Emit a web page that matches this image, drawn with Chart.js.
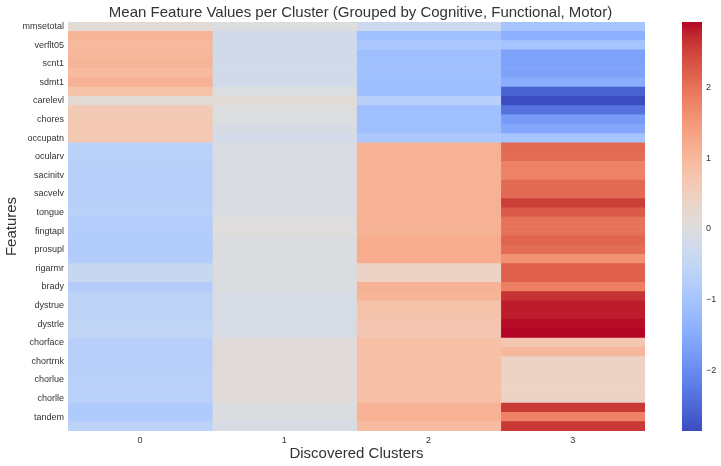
<!DOCTYPE html>
<html>
<head>
<meta charset="utf-8">
<script src="https://cdn.jsdelivr.net/npm/chart.js@4.4.0/dist/chart.umd.min.js"></script>
<style>
  html, body { margin: 0; padding: 0; background: #fff; }
  #wrap { position: relative; width: 721px; height: 466px; }
  #heat { position: absolute; left: 0; top: 0; }
  #cbar { position: absolute; left: 682px; top: 0; }
</style>
</head>
<body>
<div id="wrap">
  <canvas id="heat" width="721" height="466"></canvas>
  <canvas id="cbar" width="39" height="466"></canvas>
</div>
<script>
const clusters = ['0', '1', '2', '3'];

const features = [
  'mmsetotal', 'verfct5', 'verflt05', 'swrt1', 'scnt1', 'sit1', 'sdmt1',
  'adl', 'carelevl', 'finances', 'chores', 'indepscl', 'occupatn',
  'ocularh', 'ocularv', 'sacinith', 'sacinitv', 'sacvelh', 'sacvelv', 'dysarth', 'tongue',
  'fingtapr', 'fingtapl', 'prosupr', 'prosupl', 'luria', 'rigarmr', 'rigarml', 'brady',
  'dysttrnk', 'dystrue', 'dystlue', 'dystrle', 'dystlle', 'chorface', 'chorbol', 'chortrnk',
  'chorrue', 'chorlue', 'chorrle', 'chorlle', 'gait', 'tandem', 'retropls'
];

// mean z-scores per cluster, one value per feature (same order as features)
const cluster0 = [
  0.15, 1.05, 0.95, 1.0, 1.05, 0.95, 1.1,
  0.8, 0.15, 0.62, 0.65, 0.65, 0.65,
  -0.65, -0.65, -0.7, -0.7, -0.7, -0.68, -0.68, -0.65,
  -0.8, -0.8, -0.8, -0.82, -0.8, -0.4, -0.4, -0.78,
  -0.62, -0.6, -0.6, -0.52, -0.5, -0.7, -0.68, -0.7,
  -0.68, -0.66, -0.66, -0.65, -0.85, -0.85, -0.6
];
const cluster1 = [
  0.0, -0.22, -0.22, -0.22, -0.22, -0.22, -0.22,
  0.02, 0.12, 0.02, 0.0, -0.1, -0.18,
  -0.05, -0.05, -0.05, -0.05, -0.05, -0.05, -0.05, -0.05,
  0.05, 0.05, -0.02, -0.02, -0.02, -0.02, -0.02, -0.02,
  -0.1, -0.1, -0.1, -0.1, -0.1, 0.1, 0.1, 0.1,
  0.1, 0.1, 0.1, 0.1, -0.02, -0.02, -0.1
];
const cluster2 = [
  -0.33, -1.1, -0.9, -1.1, -1.1, -1.1, -1.1,
  -1.12, -0.68, -1.1, -1.1, -1.1, -0.9,
  1.1, 1.1, 1.1, 1.1, 1.1, 1.1, 1.1, 1.1,
  1.1, 1.1, 1.2, 1.2, 1.2, 0.4, 0.4, 1.1,
  1.05, 0.8, 0.8, 0.7, 0.7, 0.85, 0.85, 0.85,
  0.85, 0.85, 0.85, 0.85, 1.1, 1.1, 0.9
];
const cluster3 = [
  -1.0, -1.4, -1.0, -1.65, -1.65, -1.65, -1.45,
  -2.55, -2.85, -2.35, -1.75, -1.55, -1.0,
  2.1, 2.05, 1.8, 1.8, 2.1, 2.1, 2.55, 2.25,
  2.0, 2.0, 2.15, 2.05, 1.6, 2.2, 2.2, 1.85,
  2.65, 2.8, 2.8, 2.88, 2.92, 0.7, 1.0, 0.4,
  0.4, 0.4, 0.4, 0.4, 2.6, 1.8, 2.6
];

const colorbarTicks = [-2, -1, 0, 1, 2];

const clusterValues = [cluster0, cluster1, cluster2, cluster3];
const allValues = clusterValues.flat();
const vmin = Math.min(...allValues);
const vmax = Math.max(...allValues);

// matplotlib "coolwarm" (Moreland) sampled at 33 points
const coolwarmTable = [
  [59, 76, 192], [68, 90, 204], [77, 104, 215], [87, 117, 225], [98, 130, 234],
  [108, 142, 241], [119, 154, 247], [130, 165, 251], [141, 176, 254], [152, 185, 255],
  [163, 194, 255], [174, 201, 253], [184, 208, 249], [194, 213, 244], [204, 217, 238],
  [213, 219, 230], [221, 221, 221], [229, 216, 209], [236, 211, 197], [241, 204, 185],
  [245, 196, 173], [247, 187, 160], [247, 177, 148], [247, 166, 135], [244, 154, 123],
  [241, 141, 111], [236, 127, 99], [229, 112, 88], [222, 96, 77], [213, 80, 66],
  [203, 62, 56], [192, 40, 47], [180, 4, 38]
];

function coolwarm(t) {
  t = Math.max(0, Math.min(1, t));
  const pos = t * (coolwarmTable.length - 1);
  const i = Math.min(Math.floor(pos), coolwarmTable.length - 2);
  const f = pos - i;
  const a = coolwarmTable[i], b = coolwarmTable[i + 1];
  const c = a.map((v, k) => Math.round(v + (b[k] - v) * f));
  return `rgb(${c[0]},${c[1]},${c[2]})`;
}

const cellColor = (v) => coolwarm((v - vmin) / (vmax - vmin));
const minusLabel = (v) => (v < 0 ? '\u2212' + Math.abs(v) : String(v));

const fontFamily = '"Liberation Sans", Arial, sans-serif';
const textColor = '#333';
const noGrid = { display: false, drawTicks: false };

new Chart(document.getElementById('heat'), {
  type: 'bar',
  data: {
    labels: features,
    datasets: clusterValues.map((vals, c) => ({
      label: 'Cluster ' + clusters[c],
      data: vals.map(() => [c - 0.5, c + 0.5]),
      backgroundColor: vals.map(cellColor),
      borderWidth: 0,
      grouped: false,
      barPercentage: 1,
      categoryPercentage: 1,
    })),
  },
  options: {
    indexAxis: 'y',
    responsive: false,
    animation: false,
    layout: { padding: 0 },
    plugins: {
      legend: { display: false },
      tooltip: { enabled: false },
      title: {
        display: true,
        text: 'Mean Feature Values per Cluster (Grouped by Cognitive, Functional, Motor)',
        color: textColor,
        font: { family: fontFamily, size: 15, weight: 'normal' },
        padding: { top: 4, bottom: 0 },
      },
    },
    scales: {
      x: {
        type: 'linear',
        min: -0.5,
        max: 3.5,
        grid: noGrid,
        border: { display: false },
        afterBuildTicks: (scale) => {
          scale.ticks = clusters.map((_, i) => ({ value: i }));
        },
        ticks: {
          callback: (v) => clusters[v],
          color: textColor,
          font: { family: fontFamily, size: 9 },
          padding: 4,
        },
        title: {
          display: true,
          text: 'Discovered Clusters',
          color: textColor,
          font: { family: fontFamily, size: 15 },
          padding: { top: 0, bottom: 3 },
        },
        afterFit: (scale) => {
          scale.height = 35;
        },
      },
      y: {
        type: 'category',
        grid: noGrid,
        border: { display: false },
        ticks: {
          autoSkip: false,
          callback: function (v, i) {
            return i % 2 === 0 ? this.getLabelForValue(v) : '';
          },
          color: textColor,
          font: { family: fontFamily, size: 9 },
          padding: 4,
        },
        title: {
          display: true,
          text: 'Features',
          color: textColor,
          font: { family: fontFamily, size: 15 },
          padding: { top: 3, bottom: 0 },
        },
        afterFit: (scale) => {
          scale.width = 68;
        },
      },
      // empty strip on the right that leaves room for the colour bar
      yRight: {
        type: 'category',
        position: 'right',
        grid: noGrid,
        border: { display: false },
        ticks: { display: false },
        afterFit: (scale) => {
          scale.width = 76;
        },
      },
    },
  },
});

// colour bar
new Chart(document.getElementById('cbar'), {
  type: 'bar',
  data: {
    labels: [''],
    datasets: [
      {
        data: [[vmin, vmax]],
        borderWidth: 0,
        barPercentage: 1,
        categoryPercentage: 1,
        backgroundColor: (ctx) => {
          const area = ctx.chart.chartArea;
          if (!area) return coolwarm(0.5);
          const g = ctx.chart.ctx.createLinearGradient(0, area.bottom, 0, area.top);
          coolwarmTable.forEach((c, i) => {
            g.addColorStop(i / (coolwarmTable.length - 1), `rgb(${c[0]},${c[1]},${c[2]})`);
          });
          return g;
        },
      },
    ],
  },
  options: {
    responsive: false,
    animation: false,
    layout: { padding: { left: 0, right: 0, top: 22, bottom: 35 } },
    plugins: { legend: { display: false }, tooltip: { enabled: false } },
    scales: {
      x: { display: false },
      y: {
        position: 'right',
        min: vmin,
        max: vmax,
        grid: noGrid,
        border: { display: false },
        afterBuildTicks: (scale) => {
          scale.ticks = colorbarTicks.map((v) => ({ value: v }));
        },
        ticks: {
          callback: (v) => minusLabel(v),
          color: textColor,
          font: { family: fontFamily, size: 9 },
          padding: 4,
        },
        afterFit: (scale) => {
          scale.width = 19;
        },
      },
    },
  },
});
</script>
</body>
</html>
